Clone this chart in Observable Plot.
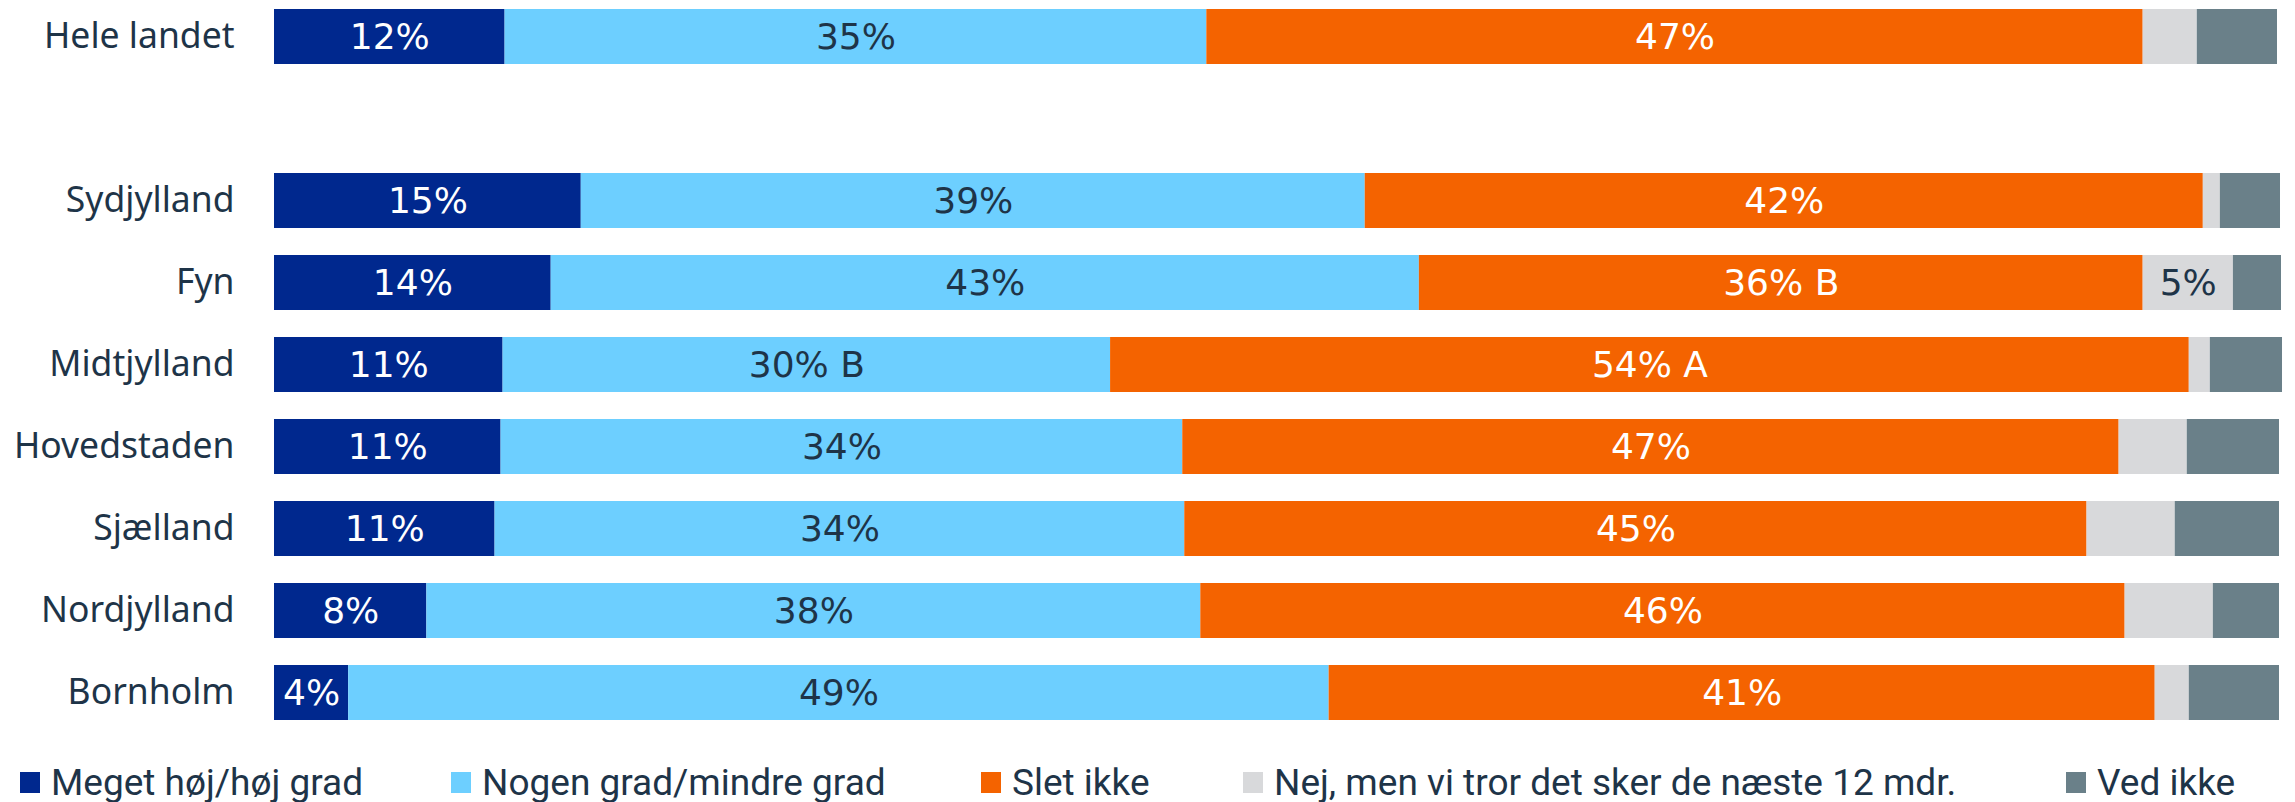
<!DOCTYPE html>
<html>
<head>
<meta charset="utf-8">
<script src="https://cdn.jsdelivr.net/npm/d3@7"></script>
<script src="https://cdn.jsdelivr.net/npm/@observablehq/plot@0.6"></script>
<style>
  html, body { margin: 0; padding: 0; background: #fff; }
  #chart { width: 2295px; }
  #legend { position: relative; width: 2295px; height: 52px; font-family: Roboto, sans-serif; font-size: 37px; color: #1e3448; }
  .item { position: absolute; top: 8px; display: flex; align-items: center; white-space: nowrap; height: 48px; }
  .sw { width: 20px; height: 21px; margin-right: 11px; }
</style>
</head>
<body>
<div id="chart"></div>
<div id="legend"></div>
<script>
// Categories (blank entry = gap row between national total and regions)
const regions = ["Hele landet", " ", "Sydjylland", "Fyn", "Midtjylland", "Hovedstaden", "Sjælland", "Nordjylland", "Bornholm"];
const dataRegions = ["Hele landet", "Sydjylland", "Fyn", "Midtjylland", "Hovedstaden", "Sjælland", "Nordjylland", "Bornholm"];

// Series
const seriesNames = ["Meget høj/høj grad", "Nogen grad/mindre grad", "Slet ikke", "Nej, men vi tror det sker de næste 12 mdr.", "Ved ikke"];
const seriesColors = ["#00288e", "#6dcfff", "#f46300", "#d8d9db", "#6a8089"];
const darkText = [false, true, false, true, false];

// Values (%) per series, in dataRegions order
const vHoej    = [11.5, 15.3, 13.8, 11.4, 11.3, 11.0, 7.6, 3.7];
const vNogen   = [35.0, 39.1, 43.3, 30.3, 34.0, 34.4, 38.6, 48.9];
const vSlet    = [46.7, 41.8, 36.1, 53.8, 46.7, 45.0, 46.1, 41.2];
const vNej     = [2.7, 0.85, 4.5, 1.05, 3.4, 4.4, 4.4, 1.7];
const vVedIkke = [4.0, 3.0, 2.4, 3.6, 4.6, 5.2, 3.3, 4.5];

// Labels per series
const lHoej    = ["12%", "15%", "14%", "11%", "11%", "11%", "8%", "4%"];
const lNogen   = ["35%", "39%", "43%", "30% B", "34%", "34%", "38%", "49%"];
const lSlet    = ["47%", "42%", "36% B", "54% A", "47%", "45%", "46%", "41%"];
const lNej     = ["", "", "5%", "", "", "", "", ""];
const lVedIkke = ["", "", "", "", "", "", "", ""];

const values = [vHoej, vNogen, vSlet, vNej, vVedIkke];
const labels = [lHoej, lNogen, lSlet, lNej, lVedIkke];

const table = [];
dataRegions.forEach((r, i) => {
  seriesNames.forEach((s, j) => {
    table.push({region: r, series: s, value: values[j][i], label: labels[j][i], dark: darkText[j]});
  });
});

const textColor = "#1e3448";
const labelFont = "'DejaVu Sans', sans-serif";

const chart = Plot.plot({
  width: 2295,
  height: 750,
  marginLeft: 274,
  marginRight: 16,
  marginTop: 9,
  marginBottom: 25,
  style: {fontFamily: "'Noto Sans', sans-serif", color: textColor, background: "#fff"},
  x: {domain: [0, 100], axis: null},
  y: {domain: regions, paddingInner: 0.3343, paddingOuter: 0, align: 0, axis: null},
  color: {domain: seriesNames, range: seriesColors},
  marks: [
    Plot.barX(table, Plot.stackX({x: "value", y: "region", fill: "series", order: seriesNames})),
    Plot.text(table, Plot.stackX({x: "value", y: "region", z: "series", order: seriesNames,
      text: d => d.dark ? "" : d.label, fill: "white", fontSize: 36, fontFamily: labelFont})),
    Plot.text(table, Plot.stackX({x: "value", y: "region", z: "series", order: seriesNames,
      text: d => d.dark ? d.label : "", fill: textColor, fontSize: 36, fontFamily: labelFont})),
    Plot.axisY({tickSize: 0, tickPadding: 40, fontSize: 35.5, fontFamily: "'Noto Sans', sans-serif", label: null})
  ]
});
document.getElementById("chart").appendChild(chart);

// Legend
const legendX = [20, 451, 981, 1243, 2066];
const legend = document.getElementById("legend");
seriesNames.forEach((s, j) => {
  const it = document.createElement("div");
  it.className = "item";
  it.style.left = legendX[j] + "px";
  const sw = document.createElement("span");
  sw.className = "sw";
  sw.style.background = seriesColors[j];
  const tx = document.createElement("span");
  tx.textContent = s;
  it.appendChild(sw);
  it.appendChild(tx);
  legend.appendChild(it);
});
</script>
</body>
</html>
